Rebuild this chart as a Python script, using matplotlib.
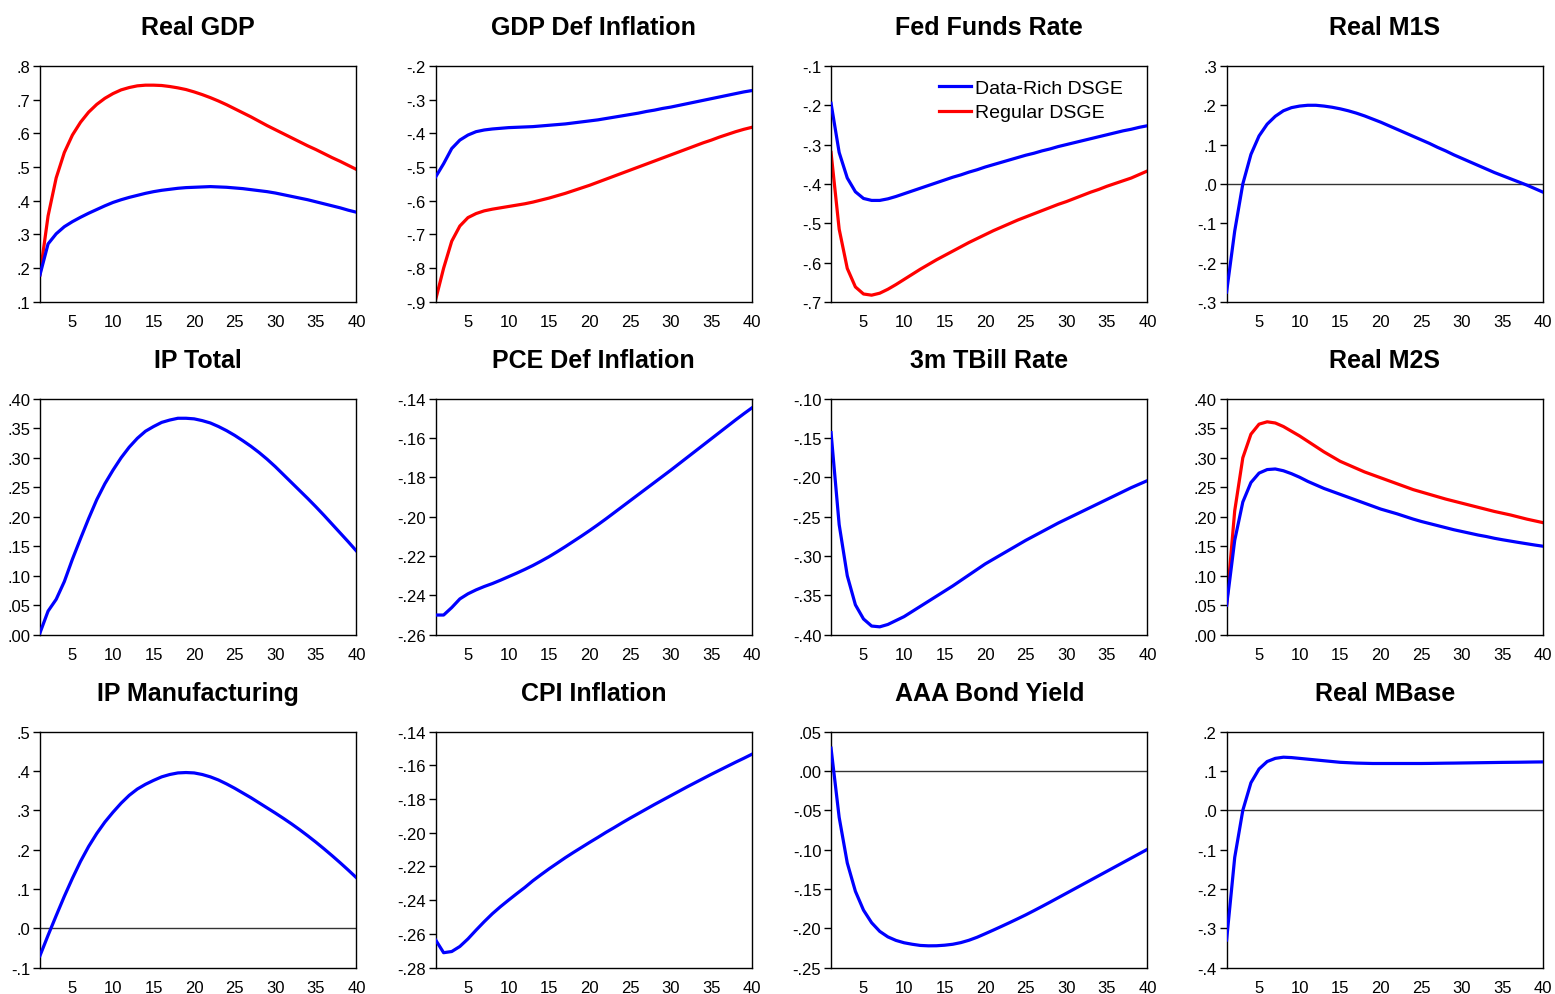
import matplotlib
matplotlib.use("Agg")
import matplotlib.pyplot as plt
import numpy as np

plt.rcParams['font.family'] = ['Liberation Sans', 'DejaVu Sans']

# --- data: impulse responses, horizon 1..40 ---
horizon = list(range(1, 41))

gdp_rich = [0.180, 0.272, 0.302, 0.323, 0.338, 0.351, 0.363, 0.374, 0.385, 0.395,
            0.403, 0.410, 0.416, 0.422, 0.427, 0.431, 0.434, 0.437, 0.439, 0.440,
            0.441, 0.442, 0.441, 0.440, 0.438, 0.436, 0.433, 0.430, 0.427, 0.423,
            0.418, 0.413, 0.408, 0.403, 0.397, 0.391, 0.385, 0.379, 0.372, 0.366]
gdp_reg = [0.180, 0.355, 0.468, 0.543, 0.595, 0.633, 0.663, 0.686, 0.704, 0.718,
           0.729, 0.736, 0.741, 0.743, 0.743, 0.742, 0.739, 0.735, 0.730, 0.723,
           0.715, 0.706, 0.696, 0.685, 0.673, 0.661, 0.649, 0.636, 0.623, 0.611,
           0.599, 0.587, 0.575, 0.563, 0.552, 0.540, 0.528, 0.517, 0.505, 0.493]

gdpdef_rich = [-0.530, -0.490, -0.445, -0.420, -0.405, -0.395, -0.390, -0.387, -0.385, -0.383,
               -0.382, -0.381, -0.380, -0.378, -0.376, -0.374, -0.372, -0.369, -0.366, -0.363,
               -0.360, -0.356, -0.352, -0.348, -0.344, -0.340, -0.335, -0.331, -0.326, -0.322,
               -0.317, -0.312, -0.307, -0.302, -0.297, -0.292, -0.287, -0.282, -0.277, -0.273]
gdpdef_reg = [-0.895, -0.800, -0.720, -0.675, -0.650, -0.638, -0.630, -0.625, -0.621, -0.617,
              -0.613, -0.609, -0.604, -0.598, -0.592, -0.585, -0.578, -0.570, -0.562, -0.554,
              -0.545, -0.536, -0.527, -0.518, -0.509, -0.500, -0.491, -0.482, -0.473, -0.464,
              -0.455, -0.446, -0.437, -0.428, -0.420, -0.411, -0.403, -0.395, -0.388, -0.382]

ffr_rich = [-0.195, -0.320, -0.385, -0.420, -0.437, -0.442, -0.442, -0.438, -0.432, -0.425,
            -0.418, -0.411, -0.404, -0.397, -0.390, -0.383, -0.377, -0.370, -0.364, -0.357,
            -0.351, -0.345, -0.339, -0.333, -0.327, -0.322, -0.316, -0.311, -0.305, -0.300,
            -0.295, -0.290, -0.285, -0.280, -0.275, -0.270, -0.265, -0.261, -0.256, -0.252]
ffr_reg = [-0.320, -0.515, -0.615, -0.662, -0.680, -0.683, -0.678, -0.668, -0.656, -0.643,
           -0.630, -0.617, -0.605, -0.593, -0.582, -0.571, -0.560, -0.549, -0.539, -0.529,
           -0.519, -0.510, -0.501, -0.492, -0.484, -0.476, -0.468, -0.460, -0.452, -0.445,
           -0.437, -0.429, -0.421, -0.414, -0.406, -0.399, -0.392, -0.385, -0.376, -0.367]

m1s_rich = [-0.275, -0.120, 0.000, 0.075, 0.122, 0.152, 0.172, 0.186, 0.194, 0.198,
            0.200, 0.200, 0.198, 0.195, 0.191, 0.186, 0.180, 0.173, 0.165, 0.157,
            0.148, 0.139, 0.130, 0.121, 0.112, 0.103, 0.093, 0.084, 0.074, 0.065,
            0.056, 0.047, 0.038, 0.029, 0.021, 0.013, 0.005, -0.003, -0.012, -0.021]

ip_rich = [0.003, 0.040, 0.060, 0.090, 0.128, 0.163, 0.197, 0.229, 0.256, 0.279,
           0.300, 0.318, 0.333, 0.345, 0.353, 0.360, 0.364, 0.367, 0.367, 0.366,
           0.363, 0.359, 0.353, 0.346, 0.338, 0.329, 0.3195, 0.309, 0.2975, 0.285,
           0.2715, 0.258, 0.2445, 0.231, 0.217, 0.2025, 0.1875, 0.1725, 0.1575, 0.142]

pce_rich = [-0.2500, -0.2500, -0.2462, -0.2418, -0.2392, -0.2372, -0.2355, -0.2340, -0.2323, -0.2305,
            -0.2287, -0.2268, -0.2248, -0.2226, -0.2203, -0.2178, -0.2152, -0.2125, -0.2098, -0.2070,
            -0.2041, -0.2011, -0.1980, -0.1949, -0.1918, -0.1887, -0.1856, -0.1825, -0.1794, -0.1763,
            -0.1731, -0.1699, -0.1667, -0.1635, -0.1603, -0.1571, -0.1539, -0.1507, -0.1476, -0.1446]

tbill_rich = [-0.143, -0.260, -0.325, -0.362, -0.380, -0.389, -0.390, -0.387, -0.382, -0.377,
              -0.3705, -0.364, -0.3575, -0.351, -0.3445, -0.338, -0.331, -0.324, -0.317, -0.310,
              -0.304, -0.298, -0.292, -0.286, -0.280, -0.2745, -0.269, -0.2635, -0.258, -0.253,
              -0.248, -0.243, -0.238, -0.233, -0.228, -0.223, -0.218, -0.213, -0.2085, -0.204]

m2s_rich = [0.050, 0.160, 0.225, 0.258, 0.274, 0.280, 0.281, 0.278, 0.273, 0.267,
            0.260, 0.254, 0.248, 0.243, 0.238, 0.233, 0.228, 0.223, 0.218, 0.213,
            0.209, 0.205, 0.2005, 0.196, 0.192, 0.1885, 0.185, 0.1815, 0.178, 0.175,
            0.172, 0.169, 0.1665, 0.1635, 0.161, 0.1587, 0.1564, 0.1542, 0.152, 0.150]
m2s_reg = [0.050, 0.210, 0.300, 0.340, 0.357, 0.361, 0.359, 0.353, 0.345, 0.337,
           0.328, 0.319, 0.310, 0.302, 0.294, 0.288, 0.282, 0.276, 0.271, 0.266,
           0.261, 0.256, 0.251, 0.246, 0.242, 0.238, 0.234, 0.230, 0.2265, 0.223,
           0.2195, 0.216, 0.2125, 0.209, 0.206, 0.203, 0.1995, 0.196, 0.193, 0.190]

ipman_rich = [-0.070, -0.018, 0.032, 0.081, 0.127, 0.170, 0.208, 0.241, 0.270, 0.295,
              0.318, 0.338, 0.354, 0.366, 0.376, 0.385, 0.391, 0.395, 0.396, 0.395,
              0.391, 0.385, 0.377, 0.367, 0.356, 0.344, 0.332, 0.319, 0.306, 0.293,
              0.2795, 0.2655, 0.2507, 0.2352, 0.219, 0.2021, 0.1846, 0.1665, 0.1478, 0.1285]

cpi_rich = [-0.2635, -0.2712, -0.2705, -0.2675, -0.2630, -0.2578, -0.2528, -0.2481, -0.2439, -0.2400,
            -0.2362, -0.2325, -0.2285, -0.2249, -0.2214, -0.2181, -0.2148, -0.2117, -0.2087, -0.2057,
            -0.2028, -0.1998, -0.1970, -0.1941, -0.1913, -0.1886, -0.1859, -0.1832, -0.1806, -0.1780,
            -0.1754, -0.1728, -0.1703, -0.1678, -0.1653, -0.1629, -0.1605, -0.1581, -0.1558, -0.1534]

aaa_rich = [0.029, -0.059, -0.117, -0.153, -0.177, -0.193, -0.204, -0.211, -0.2155, -0.2185,
            -0.2204, -0.2219, -0.2224, -0.2223, -0.2216, -0.2204, -0.2183, -0.2153, -0.2115, -0.2070,
            -0.2024, -0.1977, -0.1929, -0.1880, -0.1830, -0.1777, -0.1723, -0.1668, -0.1612, -0.1556,
            -0.1500, -0.1444, -0.1388, -0.1332, -0.1276, -0.1220, -0.1164, -0.1108, -0.1052, -0.0996]

mbase_rich = [-0.330, -0.120, 0.000, 0.070, 0.105, 0.124, 0.132, 0.135, 0.134, 0.132,
              0.130, 0.128, 0.126, 0.124, 0.122, 0.121, 0.120, 0.1195, 0.119, 0.119,
              0.119, 0.119, 0.119, 0.119, 0.119, 0.1192, 0.1195, 0.1198, 0.1200, 0.1203,
              0.1206, 0.1209, 0.1212, 0.1215, 0.1218, 0.1220, 0.1222, 0.1225, 0.1228, 0.1230]

titles = ["Real GDP", "GDP Def Inflation", "Fed Funds Rate", "Real M1S",
          "IP Total", "PCE Def Inflation", "3m TBill Rate", "Real M2S",
          "IP Manufacturing", "CPI Inflation", "AAA Bond Yield", "Real MBase"]
rich = [gdp_rich, gdpdef_rich, ffr_rich, m1s_rich,
        ip_rich, pce_rich, tbill_rich, m2s_rich,
        ipman_rich, cpi_rich, aaa_rich, mbase_rich]
regular = [gdp_reg, gdpdef_reg, ffr_reg, None,
           None, None, None, m2s_reg,
           None, None, None, None]
# y axis: (low, high, step, decimals)
yaxes = [(0.1, 0.8, 0.1, 1), (-0.9, -0.2, 0.1, 1), (-0.7, -0.1, 0.1, 1), (-0.3, 0.3, 0.1, 1),
         (0.0, 0.40, 0.05, 2), (-0.26, -0.14, 0.02, 2), (-0.40, -0.10, 0.05, 2), (0.0, 0.40, 0.05, 2),
         (-0.1, 0.5, 0.1, 1), (-0.28, -0.14, 0.02, 2), (-0.25, 0.05, 0.05, 2), (-0.4, 0.2, 0.1, 1)]
xticks = [5, 10, 15, 20, 25, 30, 35, 40]


def eviews_label(v, nd):
    # eviews style: no leading zero, ".5", "-.25", ".00"
    s = f"{v:.{nd}f}"
    neg = s.startswith("-")
    body = s.lstrip("-")
    if body.startswith("0."):
        body = body[1:]
    if neg and body.strip(".0") != "":
        return "-" + body
    return body


fig, axes = plt.subplots(3, 4, figsize=(15.55, 9.95), dpi=100)
fig.subplots_adjust(left=0.0257, right=0.9923, top=0.9327, bottom=0.0266,
                    wspace=0.25, hspace=0.411)

for i, ax in enumerate(axes.flat):
    lo, hi, step, nd = yaxes[i]
    n = int(round((hi - lo) / step))
    ticks = np.linspace(lo, hi, n + 1)
    if lo < 0 < hi:
        ax.axhline(0, color='#333333', lw=1.0, zorder=1)
    ax.plot(horizon, rich[i], color='#0000ff', lw=2.3, label='Data-Rich DSGE', zorder=3)
    if regular[i] is not None:
        ax.plot(horizon, regular[i], color='#ff0000', lw=2.3, label='Regular DSGE', zorder=2)
    ax.set_xlim(1, 40)
    ax.set_ylim(lo, hi)
    ax.set_yticks(ticks)
    ax.set_yticklabels([eviews_label(t, nd) for t in ticks])
    ax.set_xticks(xticks)
    ax.tick_params(axis='y', direction='out', length=5, width=1, pad=2, labelsize=12)
    ax.tick_params(axis='x', length=0, pad=9, labelsize=12)
    for sp in ax.spines.values():
        sp.set_linewidth(1.0)
        sp.set_color('black')
    ax.set_title(titles[i], fontsize=18, fontweight='bold', pad=23)
    if i == 2:
        ax.legend(loc='upper right', frameon=False, fontsize=14, handlelength=1.65,
                  handletextpad=0.2, labelspacing=0.37, borderpad=0, borderaxespad=0,
                  bbox_to_anchor=(0.921, 0.945))

fig.savefig("out.png", dpi=100)
